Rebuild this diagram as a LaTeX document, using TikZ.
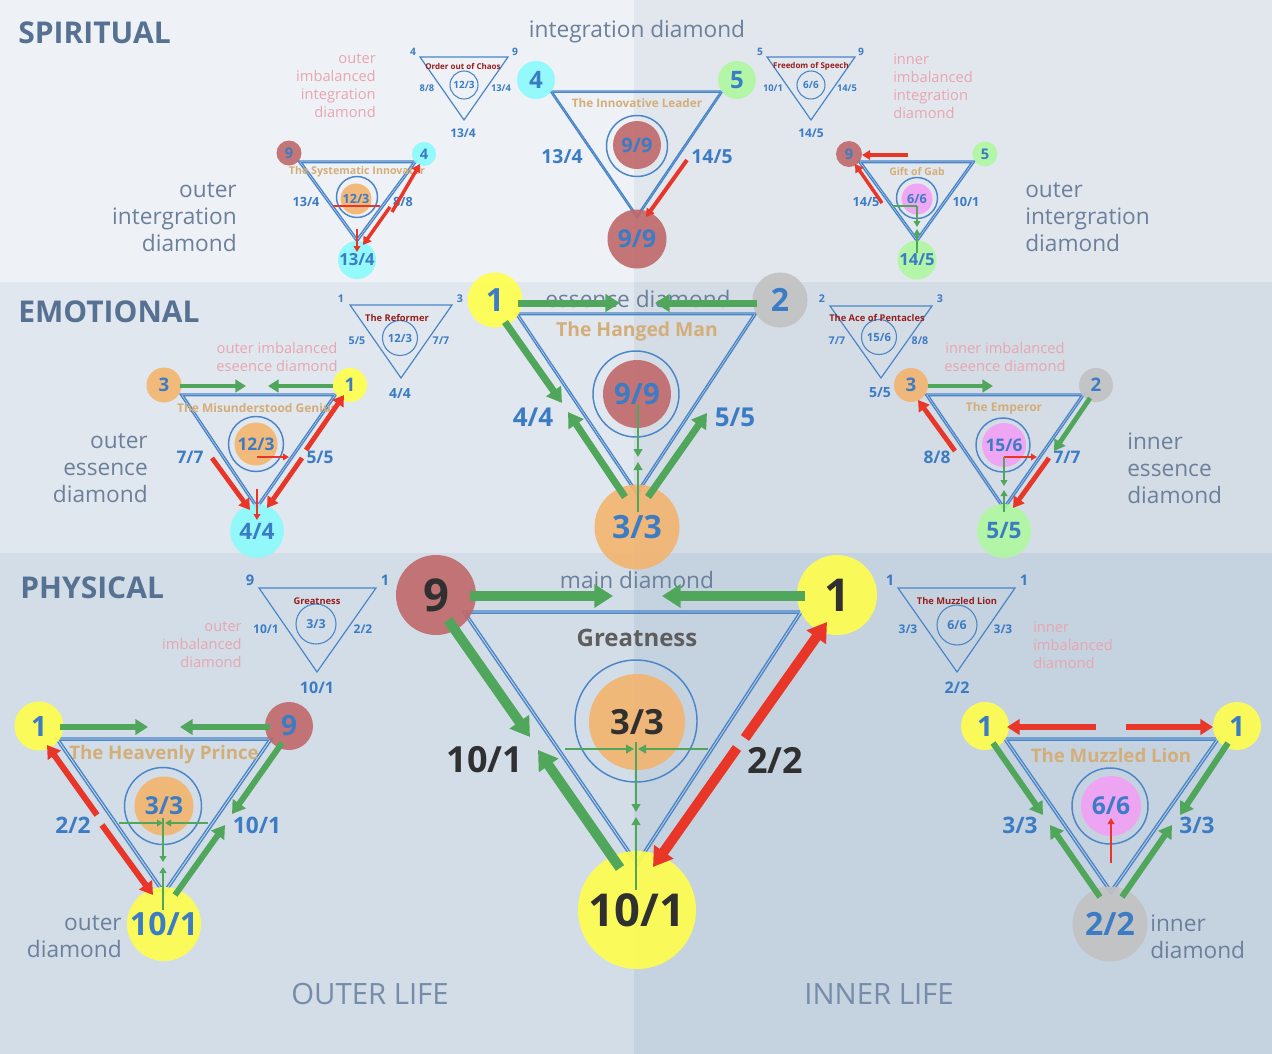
\documentclass[tikz,border=0pt]{standalone}
\usepackage{fontspec}
\setmainfont{Open Sans}
\usetikzlibrary{arrows.meta,calc}
\definecolor{bgSL}{RGB}{238,241,245}
\definecolor{bgSR}{RGB}{226,231,238}
\definecolor{bgEL}{RGB}{225,231,238}
\definecolor{bgER}{RGB}{212,220,230}
\definecolor{bgPL}{RGB}{210,221,231}
\definecolor{bgPR}{RGB}{197,210,224}
\definecolor{headc}{RGB}{86,113,146}
\definecolor{sidec}{RGB}{108,128,155}
\definecolor{lifec}{RGB}{118,140,168}
\definecolor{pinkc}{RGB}{232,166,176}
\definecolor{numblue}{RGB}{60,124,196}
\definecolor{triblue}{RGB}{74,134,200}
\definecolor{agreen}{RGB}{80,166,91}
\definecolor{ared}{RGB}{232,55,40}
\definecolor{tanc}{RGB}{212,174,120}
\definecolor{dredc}{RGB}{150,30,30}
\definecolor{darkc}{RGB}{48,48,48}
\definecolor{greyt}{RGB}{94,94,94}
\definecolor{cbrown}{RGB}{192,104,106}
\definecolor{ccyan}{RGB}{138,250,252}
\definecolor{cgreen}{RGB}{176,248,160}
\definecolor{cyellow}{RGB}{255,255,76}
\definecolor{cgrey}{RGB}{194,194,194}
\definecolor{corange}{RGB}{243,180,110}
\definecolor{cpink}{RGB}{241,160,246}
\newcommand\zb[1]{\makebox[0pt]{#1}}
\newcommand\dtri[4]{%
  \draw[triline] (#1) -- (#2) -- (#3) -- cycle;
  \coordinate (tmpG) at (barycentric cs:#1=1,#2=1,#3=1);
  \draw[triline] ($(tmpG)!#4!(#1)$) -- ($(tmpG)!#4!(#2)$) -- ($(tmpG)!#4!(#3)$) -- cycle;}
\begin{document}
\begin{tikzpicture}[x=0.75pt,y=-0.75pt,
  vdot/.style={circle,inner sep=0pt,outer sep=0pt,fill opacity=0.9,text opacity=1,minimum size={#1*1.5pt}},
  vring/.style={circle,inner sep=0pt,draw=triblue,line width=1.1pt,minimum size={#1*1.5pt}},
  sring/.style={circle,inner sep=0pt,draw=triblue,line width=0.8pt,minimum size={#1*1.5pt}},
  fb/.style={font=\bfseries\fontsize{#1}{#1}\selectfont},
  fr/.style={font=\fontsize{#1}{#1}\selectfont},
  num/.style={text=numblue,inner sep=0pt},
  dnum/.style={text=darkc,inner sep=0pt},
  ttl/.style={text=tanc,inner sep=0pt},
  dttl/.style={text=dredc,inner sep=0pt},
  pinkl/.style={font=\fontsize{11}{13.5}\selectfont,text=pinkc,inner sep=0pt},
  sidel/.style={font=\fontsize{17}{20.25}\selectfont,text=sidec,inner sep=0pt},
  hdg/.style={font=\bfseries\fontsize{22.5}{22.5}\selectfont,text=headc,inner sep=0pt,anchor=base west},
  triline/.style={draw=triblue,line width=1pt},
  smtri/.style={draw=triblue,line width=0.9pt},
  gA/.style={draw=agreen},
  rA/.style={draw=ared},
  aL/.style={line width=7.5pt,-{Triangle[length=14pt,width=17pt]}},
  aM/.style={line width=5.25pt,-{Triangle[length=11pt,width=13pt]}},
  aS/.style={line width=4.5pt,-{Triangle[length=9.5pt,width=11.5pt]}},
  aXS/.style={line width=3.6pt,-{Triangle[length=8pt,width=9.5pt]}},
  aT/.style={line width=2.6pt,-{Triangle[length=6pt,width=7pt]}},
  athinL/.style={line width=2.2pt,-{Triangle[length=6pt,width=6.5pt]}},
  athin/.style={line width=1.5pt,-{Triangle[length=4.5pt,width=5pt]}},
]
\useasboundingbox (0,0) rectangle (1272,1054);
% ---------- bands
\fill[bgSL] (0,0) rectangle (634,282);
\fill[bgSR] (634,0) rectangle (1272,282);
\fill[bgEL] (0,282) rectangle (634,553);
\fill[bgER] (634,282) rectangle (1272,553);
\fill[bgPL] (0,553) rectangle (634,1054);
\fill[bgPR] (634,553) rectangle (1272,1054);
% ---------- headings and labels
\node[hdg] (hS) at (18,43) {SPIRITUAL};
\node[hdg] (hE) at (18,322) {EMOTIONAL};
\node[hdg] (hP) at (20,598) {PHYSICAL};
\node[fr=17,text=sidec,inner sep=0pt,anchor=base] (lID) at (637,37) {integration diamond};
\node[fr=17,text=sidec,inner sep=0pt,anchor=base] (lED) at (638,307) {essence diamond};
\node[fr=17,text=sidec,inner sep=0pt,anchor=base] (lMD) at (637,588) {main diamond};
\node[pinkl,align=right,anchor=east] (pOI) at (376,86) {outer\\imbalanced\\integration\\diamond};
\node[pinkl,align=left,anchor=west] (pII) at (893,86) {inner\\imbalanced\\integration\\diamond};
\node[pinkl,align=center] (pOE) at (277,357) {outer imbalanced\\eseence diamond};
\node[pinkl,align=center] (pIE) at (1005,357) {inner imbalanced\\eseence diamond};
\node[pinkl,align=right,anchor=east] (pOP) at (242,645) {outer\\imbalanced\\diamond};
\node[pinkl,align=left,anchor=west] (pIP) at (1033,645) {inner\\imbalanced\\diamond};
\node[sidel,align=right,anchor=east] (sOI) at (237,217) {outer\\intergration\\diamond};
\node[sidel,align=left,anchor=west] (sII) at (1025,217) {outer\\intergration\\diamond};
\node[sidel,align=right,anchor=east] (sOE) at (148,468) {outer\\essence\\diamond};
\node[sidel,align=left,anchor=west] (sIE) at (1127,468) {inner\\essence\\diamond};
\node[sidel,align=right,anchor=east] (sOP) at (122,937) {outer\\diamond};
\node[sidel,align=left,anchor=west] (sIP) at (1150,937) {inner\\diamond};
\node[fr=22,text=lifec,inner sep=0pt] (oL) at (370,994) {OUTER LIFE};
\node[fr=22,text=lifec,inner sep=0pt] (iL) at (879,994) {INNER LIFE};
% ---------- small (imbalanced) triangles
% T1 Order out of Chaos
\coordinate (t1a) at (420,57); \coordinate (t1b) at (508,57); \coordinate (t1c) at (464,120);
\draw[smtri] (t1a) -- (t1b) -- (t1c) -- cycle;
\node[sring=14,num,fb=7.5] (t1o) at (464,85) {\zb{12/3}};
\node[num,fb=7.7] (t1v1) at (413,52) {4};
\node[num,fb=7.7] (t1v2) at (515,52) {9};
\node[num,fb=7] (t1e1) at (427,88) {8/8};
\node[num,fb=7] (t1e2) at (501,88) {13/4};
\node[num,fb=9] (t1e3) at (463,133) {13/4};
\node[dttl,fb=6] (t1t) at (463,66) {Order out of Chaos};
% T2 Freedom of Speech
\coordinate (t2a) at (767,57); \coordinate (t2b) at (855,57); \coordinate (t2c) at (811,120);
\draw[smtri] (t2a) -- (t2b) -- (t2c) -- cycle;
\node[sring=14,num,fb=7.5] (t2o) at (811,85) {\zb{6/6}};
\node[num,fb=7.7] (t2v1) at (760,52) {5};
\node[num,fb=7.7] (t2v2) at (861,52) {9};
\node[num,fb=7] (t2e1) at (773,88) {10/1};
\node[num,fb=7] (t2e2) at (847,88) {14/5};
\node[num,fb=9] (t2e3) at (811,133) {14/5};
\node[dttl,fb=6] (t2t) at (811,66) {Freedom of Speech};
% T3 The Reformer
\coordinate (t3a) at (350,305); \coordinate (t3b) at (452,305); \coordinate (t3c) at (401,378);
\draw[smtri] (t3a) -- (t3b) -- (t3c) -- cycle;
\node[sring=17.5,num,fb=8.5] (t3o) at (400,338) {\zb{12/3}};
\node[num,fb=8] (t3v1) at (341,299) {1};
\node[num,fb=8] (t3v2) at (460,299) {3};
\node[num,fb=8] (t3e1) at (357,341) {5/5};
\node[num,fb=8] (t3e2) at (441,341) {7/7};
\node[num,fb=10.5] (t3e3) at (400,393) {4/4};
\node[dttl,fb=7] (t3t) at (397,318) {The Reformer};
% T4 The Ace of Pentacles
\coordinate (t4a) at (830,306); \coordinate (t4b) at (932,306); \coordinate (t4c) at (881,378);
\draw[smtri] (t4a) -- (t4b) -- (t4c) -- cycle;
\node[sring=17.5,num,fb=8.5] (t4o) at (879,337) {\zb{15/6}};
\node[num,fb=8] (t4v1) at (822,299) {2};
\node[num,fb=8] (t4v2) at (940,299) {3};
\node[num,fb=8] (t4e1) at (837,341) {7/7};
\node[num,fb=8] (t4e2) at (920,341) {8/8};
\node[num,fb=10.5] (t4e3) at (880,393) {5/5};
\node[dttl,fb=7] (t4t) at (877,318) {The Ace of Pentacles};
% T5 Greatness
\coordinate (t5a) at (259,588); \coordinate (t5b) at (376,588); \coordinate (t5c) at (317,672);
\draw[smtri] (t5a) -- (t5b) -- (t5c) -- cycle;
\node[sring=20,num,fb=9.3] (t5o) at (316,624) {\zb{3/3}};
\node[num,fb=11] (t5v1) at (250,580) {9};
\node[num,fb=11] (t5v2) at (385,580) {1};
\node[num,fb=9] (t5e1) at (266,629) {10/1};
\node[num,fb=9] (t5e2) at (363,629) {2/2};
\node[num,fb=12] (t5e3) at (317,688) {10/1};
\node[dttl,fb=7] (t5t) at (317,601) {Greatness};
% T6 The Muzzled Lion
\coordinate (t6a) at (898,588); \coordinate (t6b) at (1015,588); \coordinate (t6c) at (957,672);
\draw[smtri] (t6a) -- (t6b) -- (t6c) -- cycle;
\node[sring=20,num,fb=9.3] (t6o) at (957,625) {\zb{6/6}};
\node[num,fb=11] (t6v1) at (890,580) {1};
\node[num,fb=11] (t6v2) at (1024,580) {1};
\node[num,fb=9] (t6e1) at (908,629) {3/3};
\node[num,fb=9] (t6e2) at (1003,629) {3/3};
\node[num,fb=12] (t6e3) at (957,688) {2/2};
\node[dttl,fb=7] (t6t) at (957,601) {The Muzzled Lion};
% ---------- balanced triangles (double outlines)
\coordinate (aT1) at (298,161); \coordinate (aT2) at (417,161); \coordinate (aT3) at (357,242);
\dtri{aT1}{aT2}{aT3}{0.94}
\coordinate (bT1) at (550,91); \coordinate (bT2) at (723,91); \coordinate (bT3) at (637,218);
\dtri{bT1}{bT2}{bT3}{0.97}
\coordinate (cT1) at (858,161); \coordinate (cT2) at (975,161); \coordinate (cT3) at (917,242);
\dtri{cT1}{cT2}{cT3}{0.94}
\coordinate (dT1) at (515,313); \coordinate (dT2) at (757,313); \coordinate (dT3) at (637,495);
\dtri{dT1}{dT2}{dT3}{0.97}
\coordinate (eT1) at (180,394); \coordinate (eT2) at (337,394); \coordinate (eT3) at (257,509);
\dtri{eT1}{eT2}{eT3}{0.955}
\coordinate (fT1) at (925,394); \coordinate (fT2) at (1085,394); \coordinate (fT3) at (1004,510);
\dtri{fT1}{fT2}{fT3}{0.955}
\coordinate (gT1) at (462,611); \coordinate (gT2) at (803,611); \coordinate (gT3) at (637,866);
\dtri{gT1}{gT2}{gT3}{0.975}
\coordinate (hT1) at (55,738); \coordinate (hT2) at (273,738); \coordinate (hT3) at (164,895);
\dtri{hT1}{hT2}{hT3}{0.96}
\coordinate (iT1) at (1003,738); \coordinate (iT2) at (1220,738); \coordinate (iT3) at (1111,894);
\dtri{iT1}{iT2}{iT3}{0.96}
% ---------- inner circles
\node[vring=20.5] (aring) at (357,197) {};
\node[vdot=15.5,fill=corange,num,fb=9.5] (ac) at (356,199) {\zb{12/3}};
\node[vring=30.5] (bring) at (637,146) {};
\node[vdot=24,fill=cbrown,num,fb=15] (bc) at (637,145) {\zb{9/9}};
\node[vring=20.5] (cring) at (917,198) {};
\node[vdot=15.5,fill=cpink,num,fb=9.5] (cc) at (917,199) {\zb{6/6}};
\node[vring=43] (dring) at (636,394) {};
\node[vdot=34,fill=cbrown,num,fb=22] (dc) at (637,394) {\zb{9/9}};
\node[vring=27.5] (ering) at (256,444) {};
\node[vdot=21.5,fill=corange,num,fb=13] (ec) at (256,444) {\zb{12/3}};
\node[vring=27] (fring) at (1003,445) {};
\node[vdot=22,fill=cpink,num,fb=13] (fc) at (1004,445) {\zb{15/6}};
\node[vring=61] (gring) at (636,721) {};
\node[vdot=48,fill=corange,dnum,fb=26] (gc) at (637,722) {\zb{3/3}};
\node[vring=38.5] (hring) at (163,806) {};
\node[vdot=29.5,fill=corange,num,fb=18.5] (hc) at (164,806) {\zb{3/3}};
\node[vring=38] (iring) at (1110,806) {};
\node[vdot=30,fill=cpink,num,fb=18.5] (ic) at (1111,806) {\zb{6/6}};
% ---------- titles
\node[ttl,fb=8] (aTt) at (357,172) {The Systematic Innovator};
\node[ttl,fb=8.8] (bTt) at (637,103) {The Innovative Leader};
\node[ttl,fb=7.8] (cTt) at (917,172) {Gift of Gab};
\node[ttl,fb=14.5] (dTt) at (637,331) {The Hanged Man};
\node[ttl,fb=9] (eTt) at (257,408) {The Misunderstood Genius};
\node[ttl,fb=9] (fTt) at (1004,408) {The Emperor};
\node[text=greyt,inner sep=0pt,fb=18] (gTt) at (637,638) {Greatness};
\node[ttl,fb=14] (hTt) at (164,755) {The Heavenly Prince};
\node[ttl,fb=14] (iTt) at (1111,755) {The Muzzled Lion};
% ---------- edge labels
\node[num,fb=9.5] (aE1) at (306,202) {13/4};
\node[num,fb=9.5] (aE2) at (403,202) {8/8};
\node[num,fb=14.5] (bE1) at (562,157) {13/4};
\node[num,fb=14.5] (bE2) at (712,157) {14/5};
\node[num,fb=9.5] (cE1) at (866,202) {14/5};
\node[num,fb=9.5] (cE2) at (966,202) {10/1};
\node[num,fb=19.5] (dE1) at (533,417) {4/4};
\node[num,fb=19.5] (dE2) at (735,417) {5/5};
\node[num,fb=13] (eE1) at (190,457) {7/7};
\node[num,fb=13] (eE2) at (320,457) {5/5};
\node[num,fb=13] (fE1) at (937,457) {8/8};
\node[num,fb=13] (fE2) at (1067,457) {7/7};
\node[dnum,fb=27] (gE1) at (485,760) {10/1};
\node[dnum,fb=27] (gE2) at (775,760) {2/2};
\node[num,fb=17] (hE1) at (73,825) {2/2};
\node[num,fb=17] (hE2) at (257,825) {10/1};
\node[num,fb=17] (iE1) at (1020,825) {3/3};
\node[num,fb=17] (iE2) at (1197,825) {3/3};
% ---------- vertex circles
\node[vdot=12.5,fill=cbrown,num,fb=11] (a9) at (289,153) {\zb{9}};
\node[vdot=12,fill=ccyan,num,fb=11] (a4) at (424,154) {\zb{4}};
\node[vdot=19,fill=ccyan,num,fb=12.5] (a13) at (357,260) {\zb{13/4}};
\node[vdot=19,fill=ccyan,num,fb=18] (b4) at (536,80) {\zb{4}};
\node[vdot=19,fill=cgreen,num,fb=18] (b5) at (737,80) {\zb{5}};
\node[vdot=29.5,fill=cbrown,num,fb=18.5] (b99) at (637,239) {\zb{9/9}};
\node[vdot=13,fill=cbrown,num,fb=11] (c9) at (849,154) {\zb{9}};
\node[vdot=12.5,fill=cgreen,num,fb=11] (c5) at (985,154) {\zb{5}};
\node[vdot=19.5,fill=cgreen,num,fb=12.5] (c14) at (917,260) {\zb{14/5}};
\node[vdot=27.5,fill=cyellow,num,fb=24] (d1) at (495,300) {\zb{1}};
\node[vdot=27.5,fill=cgrey,num,fb=24] (d2) at (780,300) {\zb{2}};
\node[vdot=42.5,fill=corange,num,fb=24] (d33) at (637,527) {\zb{3/3}};
\node[vdot=17.5,fill=corange,num,fb=14] (e3) at (164,385) {\zb{3}};
\node[vdot=17,fill=cyellow,num,fb=14] (e1) at (350,385) {\zb{1}};
\node[vdot=27,fill=ccyan,num,fb=17] (e44) at (257,531) {\zb{4/4}};
\node[vdot=17,fill=corange,num,fb=14] (f3) at (911,385) {\zb{3}};
\node[vdot=17,fill=cgrey,num,fb=14] (f2) at (1096,385) {\zb{2}};
\node[vdot=27,fill=cgreen,num,fb=17] (f55) at (1004,531) {\zb{5/5}};
\node[vdot=40,fill=cbrown,dnum,fb=34] (g9) at (436,595) {\zb{9}};
\node[vdot=40,fill=cyellow,dnum,fb=34] (g1) at (837,595) {\zb{1}};
\node[vdot=59,fill=cyellow,dnum,fb=34] (g10) at (637,910) {\zb{10/1}};
\node[vdot=24.5,fill=cyellow,num,fb=21] (h1) at (39,726) {\zb{1}};
\node[vdot=24,fill=cbrown,num,fb=21] (h9) at (289,726) {\zb{9}};
\node[vdot=37,fill=cyellow,num,fb=24] (h10) at (164,924) {\zb{10/1}};
\node[vdot=24,fill=cyellow,num,fb=21] (i1) at (985,726) {\zb{1}};
\node[vdot=24,fill=cyellow,num,fb=21] (i1b) at (1237,726) {\zb{1}};
\node[vdot=37.5,fill=cgrey,num,fb=24] (i22) at (1110,924) {\zb{2/2}};
% ---------- arrows: Systematic Innovator
\coordinate (aF1) at (392,212); \coordinate (aF2) at (390,207); \coordinate (aF3) at (357,229);
\draw[rA,aT] (aF1) -- ($(a4)+(-4,10)$);
\draw[rA,aT] (aF2) -- ($(a13)+(6,-15)$);
\draw[rA,athin] (aF3) -- ($(a13)+(0,-8)$);
\draw[rA,line width=1.4pt] ($(ac)+(-23,7)$) -- ($(ac)+(24,7)$);
% Innovative Leader
\coordinate (bF1) at (687,160);
\draw[rA,aT,line width=3pt] (bF1) -- ($(b99)+(9,-22)$);
% Gift of Gab
\coordinate (cF1) at (908,155); \coordinate (cF2) at (882,203);
\draw[rA,aT] (cF1) -- ($(c9)+(13,1)$);
\draw[rA,aT] (cF2) -- ($(c9)+(6,10)$);
\draw[gA,line width=1.4pt] ($(cc)+(-24,7)$) -- ($(cc)+(0,7)$);
\draw[gA,athin] ($(cc)+(0,7)$) -- ($(cc)+(0,28)$);
\draw[gA,athin] ($(c14)+(0,-7)$) -- ($(c14)+(0,-31)$);
% Hanged Man
\coordinate (dF1) at (620,303); \coordinate (dF2) at (655,303); \coordinate (dF3) at (562,403);
\coordinate (dF4) at (568,412); \coordinate (dF5) at (707,413);
\draw[gA,aM] ($(d1)+(23,3)$) -- (dF1);
\draw[gA,aM] ($(d2)+(-23,3)$) -- (dF2);
\draw[gA,aM] ($(d1)+(10,22)$) -- (dF3);
\draw[gA,aM] ($(d33)+(-12,-30)$) -- (dF4);
\draw[gA,aM] ($(d33)+(11,-30)$) -- (dF5);
\draw[gA,athinL] ($(dc)+(1,11)$) -- ($(dc)+(1,63)$);
\draw[gA,athinL] ($(d33)+(1,-15)$) -- ($(d33)+(1,-65)$);
% Misunderstood Genius
\coordinate (eF1) at (246,386); \coordinate (eF2) at (268,386); \coordinate (eF3) at (212,458);
\coordinate (eF4) at (306,450); \coordinate (eF5) at (302,458); \coordinate (eF6) at (257,489);
\coordinate (eF7) at (289,457);
\draw[gA,aXS] ($(e3)+(16,1)$) -- (eF1);
\draw[gA,aXS] ($(e1)+(-17,1)$) -- (eF2);
\draw[rA,aXS] (eF3) -- ($(e44)+(-7,-21)$);
\draw[rA,aXS] (eF4) -- ($(e1)+(-6,10)$);
\draw[rA,aXS] (eF5) -- ($(e44)+(10,-23)$);
\draw[rA,athin] (eF6) -- ($(e44)+(0,-11)$);
\draw[rA,athin] ($(ec)+(1,13)$) -- (eF7);
% Emperor
\coordinate (fF1) at (993,386); \coordinate (fF2) at (1054,451); \coordinate (fF3) at (1049,458);
\coordinate (fF4) at (955,451); \coordinate (fF5) at (1037,457); \coordinate (fF6) at (1004,486);
\coordinate (fF7) at (1004,490);
\draw[gA,aXS] ($(f3)+(17,1)$) -- (fF1);
\draw[gA,aXS] ($(f2)+(-6,13)$) -- (fF2);
\draw[rA,aXS] (fF3) -- ($(f55)+(9,-23)$);
\draw[rA,aXS] (fF4) -- ($(f3)+(7,15)$);
\draw[rA,athin] ($(fc)+(0,12)$) -- (fF5);
\draw[gA,athin] ($(fc)+(0,12)$) -- (fF6);
\draw[gA,athin] ($(f55)+(0,-19)$) -- (fF7);
% Main diamond
\coordinate (gF1) at (613,596); \coordinate (gF2) at (662,596); \coordinate (gF3) at (530,737);
\coordinate (gF4) at (538,750); \coordinate (gF5) at (745,738); \coordinate (gF6) at (737,748);
\draw[gA,aL] ($(g9)+(34,1)$) -- (gF1);
\draw[gA,aL] ($(g1)+(-32,1)$) -- (gF2);
\draw[gA,aL] ($(g9)+(12,25)$) -- (gF3);
\draw[gA,aL] ($(g10)+(-17,-42)$) -- (gF4);
\draw[rA,aL] (gF5) -- ($(g1)+(-10,27)$);
\draw[rA,aL] (gF6) -- ($(g10)+(16,-43)$);
\draw[gA,athinL] ($(gc)+(-72,27)$) -- ($(gc)+(-3,27)$);
\draw[gA,athinL] ($(gc)+(71,27)$) -- ($(gc)+(1,27)$);
\draw[gA,athinL] ($(gc)+(-1,20)$) -- ($(gc)+(-1,90)$);
\draw[gA,athinL] ($(g10)+(-1,-20)$) -- ($(g10)+(-1,-93)$);
% Heavenly Prince
\coordinate (hF1) at (148,727); \coordinate (hF2) at (180,727); \coordinate (hF3) at (232,814);
\coordinate (hF4) at (225,825); \coordinate (hF5) at (97,815); \coordinate (hF6) at (102,825);
\draw[gA,aS] ($(h1)+(21,1)$) -- (hF1);
\draw[gA,aS] ($(h9)+(-19,1)$) -- (hF2);
\draw[gA,aS] ($(h9)+(-7,17)$) -- (hF3);
\draw[gA,aS] ($(h10)+(11,-29)$) -- (hF4);
\draw[rA,aS] (hF5) -- ($(h1)+(8,19)$);
\draw[rA,aS] (hF6) -- ($(h10)+(-11,-29)$);
\draw[gA,athin] ($(hc)+(-45,17)$) -- ($(hc)+(-1,17)$);
\draw[gA,athin] ($(hc)+(44,17)$) -- ($(hc)+(1,17)$);
\draw[gA,athin] ($(hc)+(-1,12)$) -- ($(hc)+(-1,56)$);
\draw[gA,athin] ($(h10)+(-1,-14)$) -- ($(h10)+(-1,-57)$);
% Muzzled Lion
\coordinate (iF1) at (1096,727); \coordinate (iF2) at (1126,727); \coordinate (iF3) at (1043,815);
\coordinate (iF4) at (1050,825); \coordinate (iF5) at (1180,815); \coordinate (iF6) at (1172,825);
\coordinate (iF7) at (1111,863);
\draw[rA,aS] (iF1) -- ($(i1)+(22,1)$);
\draw[rA,aS] (iF2) -- ($(i1b)+(-24,1)$);
\draw[gA,aS] ($(i1)+(8,17)$) -- (iF3);
\draw[gA,aS] ($(i22)+(-10,-27)$) -- (iF4);
\draw[gA,aS] ($(i1b)+(-9,17)$) -- (iF5);
\draw[gA,aS] ($(i22)+(12,-27)$) -- (iF6);
\draw[rA,athin,line width=1.8pt] (iF7) -- ($(ic)+(0,12)$);
\end{tikzpicture}
\end{document}
